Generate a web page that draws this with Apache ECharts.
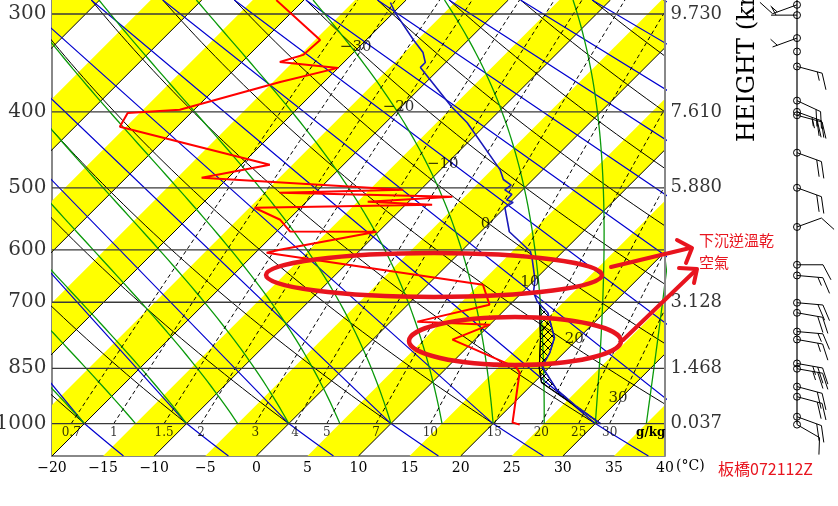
<!DOCTYPE html>
<html><head><meta charset="utf-8">
<script src="https://cdn.jsdelivr.net/npm/echarts@6/dist/echarts.min.js"></script>
<style>html,body{margin:0;padding:0;background:#fff}#c{width:838px;height:506px}</style>
</head><body><div id="c"></div>
<script>
// ---------------- data ----------------
const pressureLevels = [300, 400, 500, 600, 700, 850, 1000];
const heightLabels = ['9.730', '7.610', '5.880', '', '3.128', '1.468', '0.037'];
const isothermValues = [-70, -60, -50, -40, -30, -20, -10, 0, 10, 20, 30, 40];
const bandStarts = [-75, -65, -55, -45, -35, -25, -15, -5, 5, 15, 25, 35];
const dryThetas = [-20, -10, 0, 10, 20, 30, 40, 50, 60, 70, 80, 90, 100, 110];
const wetThetas = [-20, -15, -10, -5, 0, 5, 10, 15, 20, 25, 30, 35];
const mixingRatios = [0.7, 1, 1.5, 2, 3, 4, 5, 7, 10, 15, 20, 25, 30];
const mixingLabels = ['0.7', '1', '1.5', '2', '3', '4', '5', '7', '10', '15', '20', '25', '30'];
const isoLabelT = [-30, -20, -10, 0, 10, 20, 30];
const isoLabelP = [331, 394, 467, 556, 659, 781, 927];
// sounding: temperature (°C)
const tempP = [290, 299, 323.6, 336, 346, 351, 394, 413, 474, 488, 496, 503, 510, 518, 522, 530, 569, 603, 618, 655, 680, 699, 722, 777, 811.6, 845.6, 905, 951, 1000];
const tempT = [-31.3, -29.8, -25.4, -23.2, -22.0, -22.0, -15.1, -12.0, -4.2, -2.9, -1.6, -1.75, -0.6, -0.6, 0.3, 0.0, 2.8, 6.8, 7.8, 10.0, 11.1, 12.4, 14.5, 17.6, 18.6, 19.2, 22.9, 26.5, 30.5];
// sounding: dew point (°C)
const dewP = [288, 323.8, 338.3, 345.4, 351.5, 366.3, 397.6, 401.2, 418, 467.4, 485.6, 502.9, 507.4, 513.4, 521, 525.6, 530.2, 549.3, 568.5, 569, 599.9, 605.2, 664.8, 705, 741.1, 747.7, 781.4, 848.3, 860.9, 997, 1003];
const dewT = [-42.7, -34.5, -34.7, -36.3, -30.0, -34.3, -41.4, -46.2, -45.6, -27.2, -32.6, -11.7, -23.5, -6.2, -14.0, -7.4, -24.5, -20.8, -18.7, -10.2, -17.9, -18.9, 5.4, 8.0, 2.6, 10.0, 7.8, 16.8, 17.6, 21.8, 22.7];
// lifted parcel
const parcelP = [1000, 886, 850, 781, 701];
const parcelT = [30.5, 20.7, 19.1, 16.4, 12.7];
// winds
const windP = [292, 301, 322, 335, 350, 387, 400, 404, 451, 500, 561, 627, 647, 701, 722, 763, 781, 838, 851, 897, 924, 980, 1003];
const windDir = [250, 270, 250, 0, 105, 115, 110, 105, 110, 110, 70, 90, 95, 95, 100, 95, 100, 100, 100, 105, 105, 110, 120];
const windSpd = [15, 5, 5, 0, 15, 20, 25, 25, 20, 20, 10, 10, 15, 20, 20, 15, 15, 25, 25, 20, 20, 20, 10];

// ---------------- geometry of the skew-T ----------------
const P_BOT = 1100, P_TOP = 287.9, SKEW = 33.32;
function skewX(T, p) { return T + SKEW * Math.log(P_BOT / p); }
function pList(pStart, pEnd, n) {
  const a = Math.log(pStart), b = Math.log(pEnd), out = [];
  for (let i = 0; i <= n; i++) out.push(Math.exp(a + (b - a) * i / n));
  return out;
}
function dryT(th, p) { return (th + 273.15) * Math.pow(p / 1000, 0.286) - 273.15; }
function dTdlnp(T, p) {
  const Tc = T - 273.15, es = 6.112 * Math.exp(17.67 * Tc / (Tc + 243.5));
  const rs = 0.622 * es / (p - es), L = 2.501e6;
  return (287.04 * T + L * rs) / (1005.7 + L * L * rs * 0.622 / (287.04 * T * T));
}
function moistLine(thw) {
  const pts = []; let T = thw + 273.15; let lnp = Math.log(1000);
  const n = 80, dl = (Math.log(P_TOP) - lnp) / n;
  for (let i = 0; i <= n; i++) {
    const p = Math.exp(lnp); pts.push([skewX(T - 273.15, p), p]);
    const k1 = dTdlnp(T, p); const k2 = dTdlnp(T + k1 * dl / 2, Math.exp(lnp + dl / 2));
    T += k2 * dl; lnp += dl;
  }
  return pts;
}
function tdFromMix(w, p) {
  const e = w * p / (622 + w), a = Math.log(e / 6.112);
  return 243.5 * a / (17.67 - a);
}

const LS = { type: 'line', symbol: 'none', silent: true, animation: false };
const series = [];

function clipPoly(pts, r) {
  const edges = [
    (q) => q[0] >= r.x, (q) => q[0] <= r.x + r.width, (q) => q[1] >= r.y, (q) => q[1] <= r.y + r.height];
  const inter = [
    (a, b) => { const t = (r.x - a[0]) / (b[0] - a[0]); return [r.x, a[1] + t * (b[1] - a[1])]; },
    (a, b) => { const t = (r.x + r.width - a[0]) / (b[0] - a[0]); return [r.x + r.width, a[1] + t * (b[1] - a[1])]; },
    (a, b) => { const t = (r.y - a[1]) / (b[1] - a[1]); return [a[0] + t * (b[0] - a[0]), r.y]; },
    (a, b) => { const t = (r.y + r.height - a[1]) / (b[1] - a[1]); return [a[0] + t * (b[0] - a[0]), r.y + r.height]; }];
  let out = pts;
  for (let k = 0; k < 4; k++) {
    const inp = out; out = [];
    for (let i = 0; i < inp.length; i++) {
      const cur = inp[i], prev = inp[(i + inp.length - 1) % inp.length];
      const ci = edges[k](cur), pi = edges[k](prev);
      if (ci) { if (!pi) out.push(inter[k](prev, cur)); out.push(cur); }
      else if (pi) out.push(inter[k](prev, cur));
    }
    if (!out.length) break;
  }
  return out;
}
const topOff = SKEW * Math.log(P_BOT / P_TOP);
// yellow bands
series.push({
  type: 'custom', silent: true, animation: false, z: 1,
  data: bandStarts.map(t => [t]),
  renderItem: function (params, api) {
    const T = api.value(0);
    const pts = [api.coord([T, P_BOT]), api.coord([T + 5, P_BOT]), api.coord([T + 5 + topOff, P_TOP]), api.coord([T + topOff, P_TOP])];
    const c = clipPoly(pts, params.coordSys);
    if (c.length < 3) return null;
    return { type: 'polygon', shape: { points: c }, style: { fill: '#ffff00', stroke: null } };
  }
});
// isotherms
isothermValues.forEach(T => series.push(Object.assign({}, LS, { z: 2,
  data: [[skewX(T, P_BOT), P_BOT], [skewX(T, P_TOP), P_TOP]], lineStyle: { color: '#000', width: 1 } })));
// dry adiabats (black curves) and blue chords
dryThetas.forEach(th => {
  const up = pList(1000, P_TOP, 60).map(p => [skewX(dryT(th, p), p), p]);
  series.push(Object.assign({}, LS, { z: 2, data: up, lineStyle: { color: '#000', width: 1 } }));
  const low = pList(P_BOT, 1000, 10).map(p => [skewX(dryT(th, p), p), p]);
  const chord = low.concat([[skewX(dryT(th, P_TOP), P_TOP), P_TOP]]);
  series.push(Object.assign({}, LS, { z: 2, data: chord, lineStyle: { color: '#0000d0', width: 1.2 } }));
});
// moist adiabats
wetThetas.forEach(t => series.push(Object.assign({}, LS, { z: 3, data: moistLine(t), lineStyle: { color: '#0a9a0a', width: 1.3 } })));
// mixing ratio lines
mixingRatios.forEach(w => series.push(Object.assign({}, LS, { z: 3,
  data: pList(1000, P_TOP, 30).map(p => [skewX(tdFromMix(w, p), p), p]),
  lineStyle: { color: '#000', width: 1, type: [4, 3] } })));
// isobars
pressureLevels.forEach(p => series.push(Object.assign({}, LS, { z: 4,
  data: [[-20, p], [40, p]], lineStyle: { color: '#3a3a3a', width: 1.3 } })));
// right border
series.push(Object.assign({}, LS, { z: 4, clip: false, data: [[40, P_TOP], [40, P_BOT]], lineStyle: { color: '#888', width: 2 } }));

// hatch (parcel vs environment)
const hatch = document.createElement('canvas'); hatch.width = 8; hatch.height = 8;
(function () { const g = hatch.getContext('2d'); g.strokeStyle = '#000'; g.lineWidth = 1;
  g.beginPath(); g.moveTo(0, 0); g.lineTo(8, 8); g.moveTo(8, 0); g.lineTo(0, 8); g.stroke(); })();
series.push({
  type: 'custom', silent: true, animation: false, z: 5, data: [[0]],
  renderItem: function (params, api) {
    const pts = [];
    parcelP.forEach((p, i) => pts.push(api.coord([skewX(parcelT[i], p), p])));
    for (let i = 0; i < tempP.length; i++) if (tempP[i] >= 699) pts.push(api.coord([skewX(tempT[i], tempP[i]), tempP[i]]));
    return { type: 'polygon', shape: { points: pts }, style: { fill: { image: hatch, repeat: 'repeat' }, stroke: '#000', lineWidth: 1 } };
  }
});
series.push(Object.assign({}, LS, { z: 6, data: parcelP.map((p, i) => [skewX(parcelT[i], p), p]), lineStyle: { color: '#000', width: 1.2 } }));
// temperature & dew point
series.push(Object.assign({}, LS, { z: 7, data: tempP.map((p, i) => [skewX(tempT[i], p), p]), lineStyle: { color: '#1a1ab8', width: 1.6 } }));
series.push(Object.assign({}, LS, { z: 7, data: dewP.map((p, i) => [skewX(dewT[i], p), p]), lineStyle: { color: '#ff0000', width: 2 } }));

// labels
const SERIF = 'DejaVu Serif';
const LBL = { type: 'scatter', symbolSize: 1, itemStyle: { color: 'rgba(0,0,0,0)' }, silent: true, animation: false, clip: false, z: 8 };
series.push(Object.assign({}, LBL, {
  data: pressureLevels.map(p => ({ value: [-20, p], label: { formatter: String(p) } })),
  label: { show: true, position: 'left', distance: 5, color: '#000', fontFamily: SERIF, fontSize: 20 } }));
series.push(Object.assign({}, LBL, {
  data: pressureLevels.map((p, i) => ({ value: [40, p], label: { formatter: heightLabels[i] } })),
  label: { show: true, position: 'right', distance: 5, color: '#000', fontFamily: SERIF, fontSize: 18 } }));
series.push(Object.assign({}, LBL, {
  data: mixingRatios.map((w, i) => ({ value: [skewX(tdFromMix(w, 1000), 1000), 1000], label: { formatter: mixingLabels[i] } })),
  label: { show: true, position: 'bottom', distance: 3, color: '#000', fontFamily: SERIF, fontSize: 12 } }));
series.push(Object.assign({}, LBL, {
  data: isoLabelT.map((t, i) => ({ value: [skewX(t, isoLabelP[i]), isoLabelP[i]], label: { formatter: String(t).replace('-', '\u2212') } })),
  label: { show: true, position: 'inside', offset: [-3, 0], color: '#000', fontFamily: SERIF, fontSize: 15 } }));

// wind barbs
series.push({
  type: 'custom', silent: true, animation: false, z: 9, clip: false,
  data: windP.map((p, i) => [p, windDir[i], windSpd[i]]),
  renderItem: function (params, api) {
    const p = api.value(0), dir = api.value(1), spd = api.value(2);
    const base = api.coord([40, p]); const x0 = base[0] + 132, y0 = base[1];
    const ch = [];
    if (params.dataIndex === 0) {
      const yt = api.coord([40, P_TOP])[1], yb = api.coord([40, 1003])[1];
      ch.push({ type: 'line', shape: { x1: x0, y1: yt, x2: x0, y2: yb }, style: { stroke: '#000', lineWidth: 1.2 } });
    }
    ch.push({ type: 'circle', shape: { cx: x0, cy: y0, r: 3.5 }, style: { fill: 'none', stroke: '#000', lineWidth: 1 } });
    if (spd > 0) {
      const rad = dir * Math.PI / 180, ux = Math.sin(rad), uy = -Math.cos(rad), L = 26;
      const tx = x0 + ux * L, ty = y0 + uy * L;
      ch.push({ type: 'line', shape: { x1: x0, y1: y0, x2: tx, y2: ty }, style: { stroke: '#000', lineWidth: 1 } });
      const fa = 62 * Math.PI / 180;
      const fx = ux * Math.cos(fa) - uy * Math.sin(fa), fy = ux * Math.sin(fa) + uy * Math.cos(fa);
      let rem = spd, k = 0;
      while (rem >= 10) {
        const bx = tx - ux * k * 5, by = ty - uy * k * 5;
        ch.push({ type: 'line', shape: { x1: bx, y1: by, x2: bx + fx * 17, y2: by + fy * 17 }, style: { stroke: '#000', lineWidth: 1 } });
        rem -= 10; k++;
      }
      if (rem >= 5) {
        if (k === 0) k = 1;
        const bx = tx - ux * k * 5, by = ty - uy * k * 5;
        ch.push({ type: 'line', shape: { x1: bx, y1: by, x2: bx + fx * 9, y2: by + fy * 9 }, style: { stroke: '#000', lineWidth: 1 } });
      }
    }
    return { type: 'group', children: ch };
  }
});

const RED = '#e8141e';
const chart = echarts.init(document.getElementById('c'), null, { renderer: 'canvas' });
chart.setOption({
  animation: false,
  backgroundColor: '#fff',
  grid: { left: 52, right: 173, top: 0, bottom: 50, containLabel: false, outerBoundsMode: 'none' },
  xAxis: { type: 'value', min: -20, max: 40, interval: 5,
    axisLine: { show: true, onZero: false, lineStyle: { color: '#888', width: 2 } },
    axisTick: { show: false }, splitLine: { show: false },
    axisLabel: { color: '#000', fontFamily: SERIF, fontSize: 14, margin: 5, showMinLabel: true, showMaxLabel: true,
      formatter: v => String(v).replace('-', '\u2212') } },
  yAxis: { type: 'log', logBase: 10, inverse: true, min: P_TOP, max: P_BOT,
    axisLine: { show: true, onZero: false, lineStyle: { color: '#888', width: 2 } },
    axisTick: { show: false }, axisLabel: { show: false }, splitLine: { show: false }, minorSplitLine: { show: false } },
  series: series,
  graphic: [
    { type: 'text', z: 100, style: { x: 676, y: 466, text: '(°C)', font: '14px "DejaVu Serif"', fill: '#000', textVerticalAlign: 'middle' } },
    { type: 'text', z: 100, style: { x: 636, y: 433, text: 'g/kg', font: 'bold 12px "DejaVu Serif"', fill: '#000', textVerticalAlign: 'middle' } },
    { type: 'text', z: 100, x: 760, y: 142, rotation: Math.PI / 2, style: { x: 0, y: 0, text: 'HEIGHT (km)', font: '24px "DejaVu Serif"', fill: '#000', textVerticalAlign: 'bottom' } },
    { type: 'text', z: 100, style: { x: 718, y: 469, text: '板橋072112Z', font: '16px "Noto Sans CJK TC"', fill: RED, textVerticalAlign: 'middle' } },
    { type: 'text', z: 100, style: { x: 699, y: 240, text: '下沉逆溫乾', font: '15px "Noto Sans CJK TC"', fill: RED, textVerticalAlign: 'middle' } },
    { type: 'text', z: 100, style: { x: 699, y: 262, text: '空氣', font: '15px "Noto Sans CJK TC"', fill: RED, textVerticalAlign: 'middle' } },
    { type: 'ellipse', z: 100, shape: { cx: 434, cy: 275, rx: 168, ry: 22 }, style: { fill: 'none', stroke: RED, lineWidth: 4.5 } },
    { type: 'ellipse', z: 100, shape: { cx: 515, cy: 341, rx: 106, ry: 24 }, style: { fill: 'none', stroke: RED, lineWidth: 4.5 } },
    { type: 'polyline', z: 100, shape: { points: [[611, 267], [690, 248]] }, style: { stroke: RED, lineWidth: 4, lineCap: 'round' } },
    { type: 'polyline', z: 100, shape: { points: [[677, 240], [692, 248], [686, 263]] }, style: { stroke: RED, lineWidth: 4, fill: 'none', lineCap: 'round', lineJoin: 'round' } },
    { type: 'polyline', z: 100, shape: { points: [[623, 340], [696, 270]] }, style: { stroke: RED, lineWidth: 4, lineCap: 'round' } },
    { type: 'polyline', z: 100, shape: { points: [[679, 268], [697, 269], [694, 283]] }, style: { stroke: RED, lineWidth: 4, fill: 'none', lineCap: 'round', lineJoin: 'round' } }
  ]
});
</script>
</body></html>
